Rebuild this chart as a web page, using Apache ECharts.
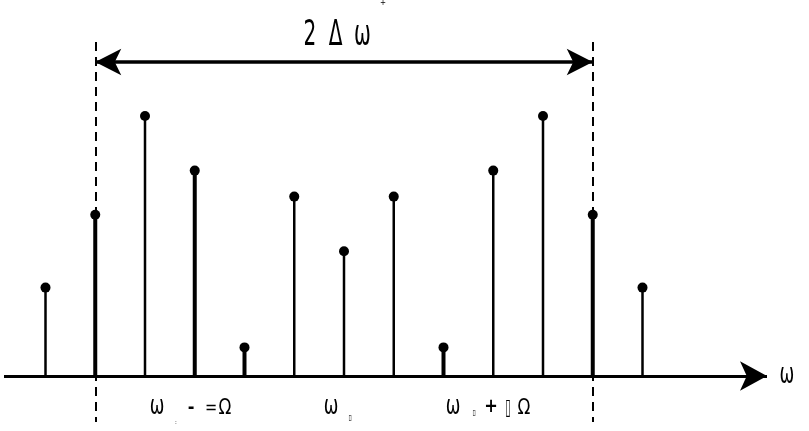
<!DOCTYPE html>
<html><head><meta charset="utf-8">
<script src="https://cdn.jsdelivr.net/npm/echarts@6/dist/echarts.min.js"></script>
<style>html,body{margin:0;padding:0;background:#fff}#c{width:809px;height:431px}</style>
</head><body><div id="c"></div>
<script>
// ---- data ----
const harmonics = [-6,-5,-4,-3,-2,-1,0,1,2,3,4,5,6];
const amplitudes = [0.34,0.62,1.00,0.79,0.11,0.69,0.48,0.69,0.11,0.79,1.00,0.62,0.34];
const bandEdges = [-5, 5];
const bandLabel = ['2', 'Δ', 'ω'];
const axisLabel = 'ω';

// ---- style / layout ----
const thickStems = [-5,-3,-2,2,5];
const PX_PER_N = 49.75, CENTER_PX = 344, BASE_PX = 376, PX_PER_AMP = 260, W = 809, H = 431;
const xMin = -CENTER_PX / PX_PER_N;
const xMax = (W - CENTER_PX) / PX_PER_N;
const axisStart = (4 - CENTER_PX) / PX_PER_N;
const axisEnd = (767 - CENTER_PX) / PX_PER_N;
const yMin = -(H - BASE_PX) / PX_PER_AMP;
const yMax = BASE_PX / PX_PER_AMP;
const dashTop = (BASE_PX - 42) / PX_PER_AMP, dashBottom = -(422 - BASE_PX) / PX_PER_AMP;
const arrowY = (BASE_PX - 62) / PX_PER_AMP;
const FONT = '"Liberation Sans Narrow", "DejaVu Sans Condensed", "Liberation Sans", sans-serif';
const DASH = {type: [9, 6], width: 2, color: '#000'};

const chart = echarts.init(document.getElementById('c'), null, {renderer: 'canvas'});
const pts = harmonics.map((n, i) => [n, amplitudes[i]]);

chart.setOption({
  animation: false,
  backgroundColor: '#fff',
  grid: {left: 0, right: 0, top: 0, bottom: 0},
  xAxis: {
    type: 'value', min: xMin, max: xMax, show: false, splitLine: {show: false}
  },
  yAxis: {
    type: 'value', min: yMin, max: yMax, show: false, splitLine: {show: false}
  },
  series: [
    {
      type: 'custom', data: pts, silent: true, z: 3,
      renderItem(params, api) {
        const n = api.value(0), a = api.value(1);
        const p0 = api.coord([n, 0]), p1 = api.coord([n, a]);
        return {type: 'line', shape: {x1: p0[0], y1: p0[1], x2: p1[0], y2: p1[1]},
          style: {stroke: '#000', lineWidth: thickStems.includes(n) ? 4 : 2.5}};
      }
    },
    {
      type: 'scatter', data: pts, symbol: 'circle', symbolSize: 10, silent: true, z: 4,
      itemStyle: {color: '#000', opacity: 1},
      markLine: {
        silent: true, animation: false, label: {show: false},
        data: [
          [{coord: [axisStart, 0], symbol: 'none', lineStyle: {type: 'solid', width: 3, color: '#000'}},
           {coord: [axisEnd, 0], symbol: 'arrow', symbolSize: [22, 27]}],
          [{coord: [bandEdges[0], dashTop], symbol: 'none', lineStyle: DASH},
           {coord: [bandEdges[0], dashBottom], symbol: 'none'}],
          [{coord: [bandEdges[1], dashTop], symbol: 'none', lineStyle: DASH},
           {coord: [bandEdges[1], dashBottom], symbol: 'none'}],
          [{coord: [bandEdges[0], arrowY], symbol: 'arrow', symbolSize: [20, 26],
            lineStyle: {type: 'solid', width: 3.5, color: '#000'}},
           {coord: [bandEdges[1], arrowY], symbol: 'arrow', symbolSize: [20, 26]}]
        ]
      }
    }
  ]
});

// ---- annotations ----
function px(n, a) { return chart.convertToPixel({gridIndex: 0}, [n, a]); }
function txt(x, y, text, size, sx, weight) {
  return {
    type: 'text', x: x, y: y, scaleX: sx, scaleY: 1, silent: true, z: 100,
    style: {text: text, font: (weight ? weight + ' ' : '') + size + 'px ' + FONT, fill: '#000',
      align: 'center', verticalAlign: 'middle'}
  };
}
const mid = px(0, arrowY);
const g = [];
// band label above the double arrow
g.push(txt(mid[0] - 34, 36, bandLabel[0], 36, 0.62));
g.push(txt(mid[0] - 8.5, 36, bandLabel[1], 36, 0.62));
g.push(txt(mid[0] + 18.5, 36, bandLabel[2], 36, 0.62));
// small top mark
g.push(txt(mid[0] + 39, 3, '+', 8, 1));
// axis label
const ax = px(axisEnd, 0);
g.push(txt(ax[0] + 20, ax[1], axisLabel, 28, 0.7));
// bottom labels
const base = px(0, 0)[1];
const ly = base + 31;
g.push(txt(157, ly, 'ω', 27, 0.72));
g.push(txt(176, ly + 15, ':', 6, 1));
g.push(txt(191, ly + 1, '-', 18, 1, 'bold'));
g.push(txt(211, ly + 1, '=', 18, 0.9));
g.push(txt(225, ly + 1, 'Ω', 22, 0.85));
g.push(txt(331, ly, 'ω', 27, 0.72));
g.push(txt(350, ly + 11, '▯', 8, 0.8));
g.push(txt(453, ly, 'ω', 27, 0.72));
g.push(txt(474, ly + 6, '▯', 8, 0.8));
g.push(txt(491, ly, '+', 20, 0.9, 'bold'));
g.push(txt(508, ly + 1, '▯', 22, 0.5));
g.push(txt(524, ly + 1, 'Ω', 22, 0.85));
chart.setOption({graphic: g});
</script></body></html>
